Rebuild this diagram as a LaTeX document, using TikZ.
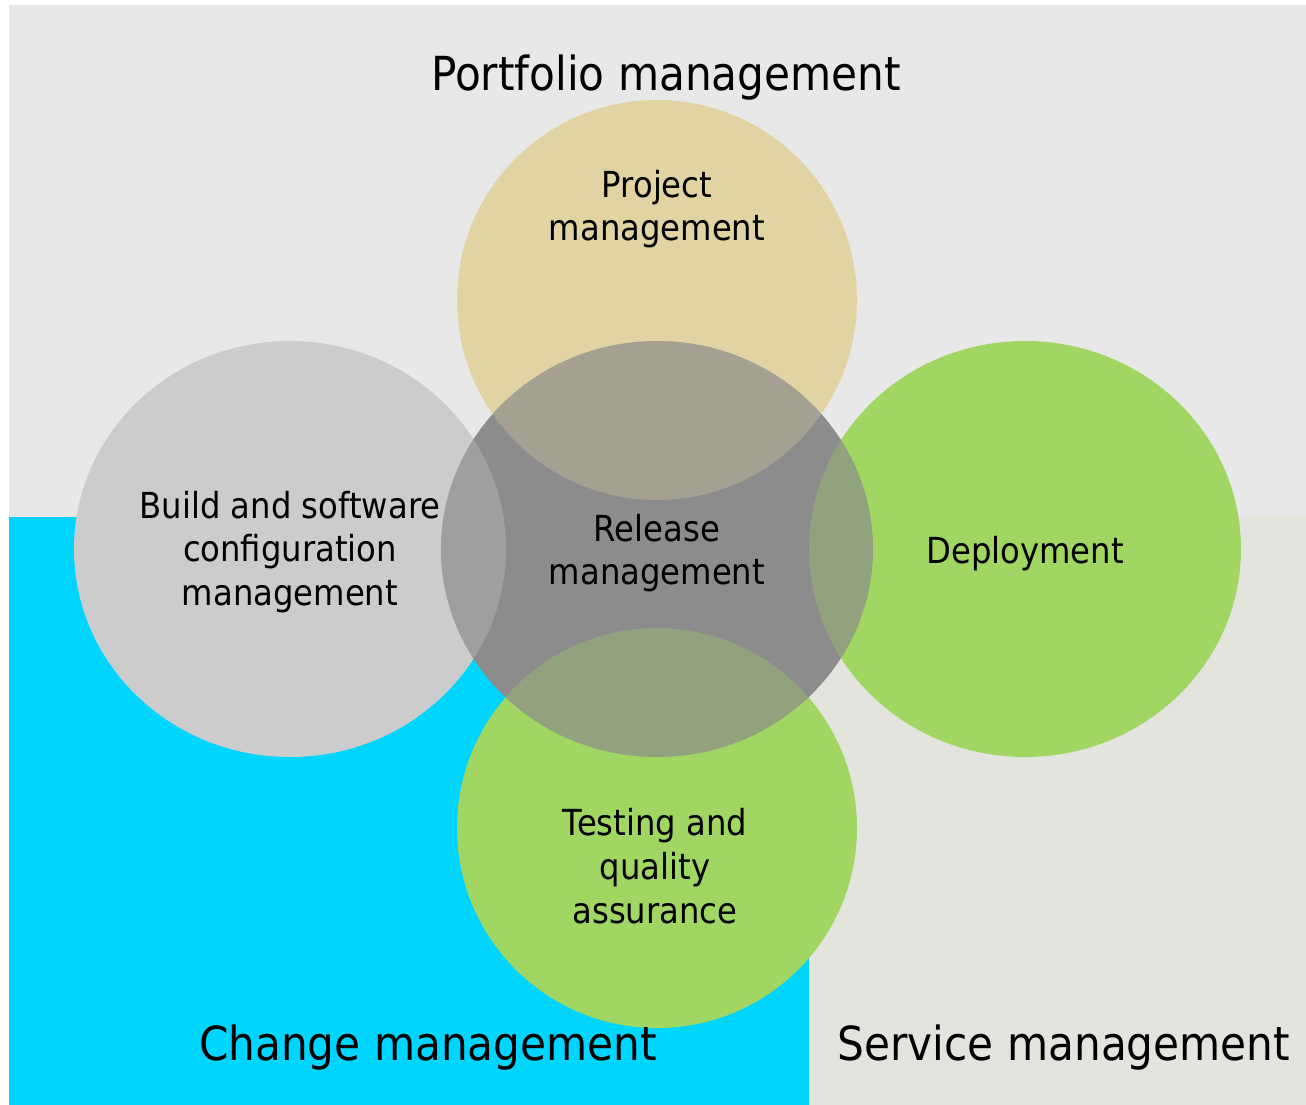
\documentclass[tikz,border=0pt]{standalone}
\usepackage{fontspec}
\setmainfont{DejaVu Sans}[FakeStretch=0.9]

\definecolor{topgray}{HTML}{E8E8E8}
\definecolor{changecyan}{HTML}{00D5FF}
\definecolor{servicegray}{HTML}{E4E4DF}
\definecolor{projectgold}{HTML}{E1D4A2}
\definecolor{buildgray}{HTML}{CCCCCC}
\definecolor{leafgreen}{HTML}{A1D663}
\definecolor{releasegray}{HTML}{8C8C8C}

\begin{document}
\begin{tikzpicture}[x=0.02cm,y=-0.02cm]
\tikzstyle{every node}+=[inner sep=0pt]
\tikzstyle{lbl}=[align=center,font=\fontsize{20.4}{24.9}\selectfont]
\tikzstyle{area}=[font=\fontsize{26.7}{30}\selectfont]
\tikzstyle{mix}=[opacity=0.3]
\useasboundingbox (0,0) rectangle (1306,1105);
% the three areas
\fill [topgray] (9,5) rectangle (1306,517);
\fill [changecyan] (9,517) rectangle (809,1105);
\fill [servicegray] (809,517) rectangle (1306,1105);
% the circles
\fill [projectgold] (657,300) circle (200);
\fill [buildgray] (290,549) ellipse (216 and 208);
\fill [leafgreen] (1025,549) ellipse (216 and 208);
\fill [leafgreen] (657,828) circle (200);
\fill [releasegray] (657,549) ellipse (216 and 208);
% overlaps with release management
\begin{scope}
\clip (657,549) ellipse (216 and 208);
\fill [projectgold,mix] (657,300) circle (200);
\fill [buildgray,mix] (290,549) ellipse (216 and 208);
\fill [leafgreen,mix] (1025,549) ellipse (216 and 208);
\fill [leafgreen,mix] (657,828) circle (200);
\end{scope}
% labels
\node (portfolio) [area] at (666,78) {Portfolio management};
\node (project) [lbl] at (657,209) {Project\\management};
\node (build) [lbl] at (290,552) {Build and software\\configuration\\management};
\node (release) [lbl] at (657,553) {Release\\management};
\node (deploy) [lbl] at (1025,554) {Deployment};
\node (testing) [lbl] at (655,866) {Testing and\\quality\\assurance};
\node (change) [area] at (428,1048) {Change management};
\node (service) [area] at (1064,1048) {Service management};
\end{tikzpicture}
\end{document}
